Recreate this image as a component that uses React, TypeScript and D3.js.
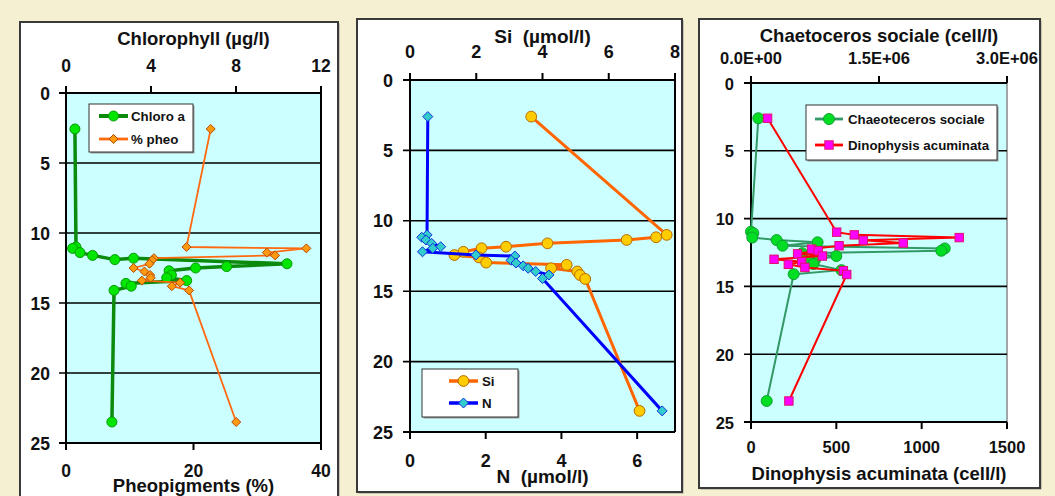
import React from 'react';
import * as d3 from 'd3';

// ---------- DATA ----------
// Panel 1: Chlorophyll a (µg/l, top axis) and % pheopigments (bottom axis)
const chlDepth = [2.57, 11.0, 11.1, 11.4, 11.6, 11.9, 11.8, 12.2, 12.4, 12.5, 12.7, 13.0, 13.2, 13.4, 13.6, 13.8, 14.1, 23.5];
const chlValue = [0.42, 0.47, 0.31, 0.66, 1.25, 2.3, 3.18, 10.4, 7.56, 6.1, 4.85, 4.96, 4.74, 5.68, 2.82, 3.07, 2.26, 2.16];
const pheoDepth = [2.57, 11.0, 11.1, 11.4, 11.6, 11.8, 11.95, 12.2, 12.5, 12.75, 13.0, 13.2, 13.4, 13.55, 13.8, 14.1, 23.5];
const pheoValue = [22.7, 18.9, 37.7, 31.5, 32.8, 13.8, 13.5, 13.1, 10.6, 12.3, 13.2, 13.3, 11.9, 17.9, 16.6, 19.3, 26.7];

// Panel 2: Si (top axis) and N (bottom axis), µmol/l
const siDepth = [2.6, 11.0, 11.17, 11.36, 11.6, 11.84, 11.95, 12.2, 12.43, 12.6, 12.97, 13.13, 13.37, 13.6, 13.85, 14.13, 23.5];
const siValue = [3.66, 7.75, 7.43, 6.54, 4.15, 2.9, 2.16, 1.61, 1.34, 2.08, 2.3, 4.73, 4.26, 5.05, 5.13, 5.29, 6.93];
const nDepth = [2.6, 11.0, 11.17, 11.36, 11.6, 11.84, 11.95, 12.2, 12.43, 12.5, 12.8, 13.0, 13.2, 13.37, 13.6, 13.85, 14.1, 23.5];
const nValue = [0.47, 0.45, 0.31, 0.42, 0.57, 0.81, 0.6, 0.33, 1.74, 2.77, 2.67, 2.8, 2.99, 3.12, 3.32, 3.67, 3.5, 6.66];

// Panel 3: Chaetoceros sociale (top axis) and Dinophysis acuminata (bottom axis), cell/l
const chaetoDepth = [2.6, 10.97, 11.08, 11.4, 11.58, 11.75, 12.0, 12.2, 12.37, 12.55, 12.76, 13.05, 13.18, 13.35, 13.8, 14.1, 23.45];
const chaetoValue = [8.6e4, 0, 2.7e4, 1.5e4, 3.0e5, 7.8e5, 3.7e5, 2.27e6, 2.23e6, 6.0e5, 1.0e6, 7.5e5, 6.9e5, 7.3e5, 1.06e6, 5.0e5, 1.84e5];
const dinoDepth = [2.6, 11.0, 11.2, 11.4, 11.6, 11.8, 12.0, 12.25, 12.37, 12.6, 12.76, 13.0, 13.18, 13.37, 13.6, 13.84, 14.12, 23.45];
const dinoValue = [97, 502, 605, 1220, 658, 892, 516, 355, 394, 273, 418, 135, 297, 219, 316, 541, 561, 222];

// Axis ticks
const depthTicks = [0, 5, 10, 15, 20, 25];
const chlTicks = [0, 4, 8, 12];
const pheoTicks = [0, 20, 40];
const siTicks = [0, 2, 4, 6, 8];
const nTicks = [0, 2, 4, 6];
const chaetoTicks = [0, 1.5e6, 3.0e6];
const chaetoTickLabels = ['0.0E+00', '1.5E+06', '3.0E+06'];
const dinoTicks = [0, 500, 1000, 1500];

// ---------- STYLE / LAYOUT ----------
const FONT = '"Liberation Sans", Arial, Helvetica, sans-serif';
const BG = '#F5F0D2';
const PLOT_BG = '#CCFFFF';

type Series = {
  name: string;
  depth: number[];
  value: number[];
  axis: 'top' | 'bottom';
  line: string;
  lw: number;
  marker: 'circle' | 'diamond' | 'square';
  fill: string;
  stroke: string;
  size: number;
};

type PanelCfg = {
  box: [number, number, number, number];
  px0: number; px1: number; py0: number; py1: number;
  topDomain: [number, number]; topTicks: number[]; topLabels?: string[];
  bottomDomain: [number, number]; bottomTicks: number[];
  topTitle: string; bottomTitle: string;
  topTitleY: number; topLabelY: number; bottomLabelY: number; bottomTitleY: number;
  leftLabelX: number;
  tickFont: number; titleFont: number;
  rightColor: string;
  series: Series[];
  legend: { x: number; y: number; w: number; h: number; lx0: number; lx1: number; ys: number[]; tx: number };
};

function Marker({ s, x, y }: { s: Series; x: number; y: number }) {
  const r = s.size;
  if (s.marker === 'circle') {
    return <circle cx={x} cy={y} r={r} fill={s.fill} stroke={s.stroke} strokeWidth={1} />;
  }
  if (s.marker === 'diamond') {
    return (
      <path d={`M${x},${y - r}L${x + r},${y}L${x},${y + r}L${x - r},${y}Z`} fill={s.fill} stroke={s.stroke} strokeWidth={1} />
    );
  }
  return <rect x={x - r} y={y - r} width={2 * r} height={2 * r} fill={s.fill} stroke={s.stroke} strokeWidth={1} />;
}

function Panel({ cfg }: { cfg: PanelCfg }) {
  const y = d3.scaleLinear().domain([0, 25]).range([cfg.py0, cfg.py1]);
  const xt = d3.scaleLinear().domain(cfg.topDomain).range([cfg.px0, cfg.px1]);
  const xb = d3.scaleLinear().domain(cfg.bottomDomain).range([cfg.px0, cfg.px1]);
  const [bx, by, bw, bh] = cfg.box;
  const txt = { fontFamily: FONT, fontWeight: 700 as const, fill: '#111' };
  const lg = cfg.legend;
  return (
    <g>
      <rect x={bx + 1.5} y={by + 1.5} width={bw} height={bh} fill="#9a9a90" />
      <rect x={bx} y={by} width={bw} height={bh} fill="#fff" stroke="#3a3a3a" strokeWidth={2} />
      <rect x={cfg.px0} y={cfg.py0} width={cfg.px1 - cfg.px0} height={cfg.py1 - cfg.py0} fill={PLOT_BG} />
      {/* right border */}
      <line x1={cfg.px1} x2={cfg.px1} y1={cfg.py0} y2={cfg.py1} stroke={cfg.rightColor} strokeWidth={cfg.rightColor === '#000' ? 2 : 1.5} />
      {/* horizontal grid + ticks */}
      {depthTicks.map((d) => (
        <g key={'g' + d}>
          <line x1={cfg.px0 - 7} x2={cfg.px1} y1={y(d)} y2={y(d)} stroke="#000" strokeWidth={d === 0 || d === 25 ? 2 : 1.6} />
          <text x={cfg.leftLabelX} y={y(d) + 6.5} textAnchor="end" fontSize={cfg.tickFont} {...txt}>{d}</text>
        </g>
      ))}
      {/* left axis */}
      <line x1={cfg.px0} x2={cfg.px0} y1={cfg.py0} y2={cfg.py1} stroke="#000" strokeWidth={2} />
      {/* top axis */}
      {cfg.topTicks.map((t, i) => (
        <g key={'t' + i}>
          <line x1={xt(t)} x2={xt(t)} y1={cfg.py0 - 7} y2={cfg.py0} stroke="#000" strokeWidth={2} />
          <text x={xt(t)} y={cfg.topLabelY} textAnchor="middle" fontSize={cfg.tickFont} {...txt}>
            {cfg.topLabels ? cfg.topLabels[i] : t}
          </text>
        </g>
      ))}
      {/* bottom axis */}
      {cfg.bottomTicks.map((t, i) => (
        <g key={'b' + i}>
          <line x1={xb(t)} x2={xb(t)} y1={cfg.py1} y2={cfg.py1 + 7} stroke="#000" strokeWidth={2} />
          <text x={xb(t)} y={cfg.bottomLabelY} textAnchor="middle" fontSize={cfg.tickFont} {...txt}>{t}</text>
        </g>
      ))}
      <text x={(cfg.px0 + cfg.px1) / 2} y={cfg.topTitleY} textAnchor="middle" fontSize={cfg.titleFont} style={{ whiteSpace: 'pre' }} {...txt}>
        {cfg.topTitle}
      </text>
      <text x={(cfg.px0 + cfg.px1) / 2} y={cfg.bottomTitleY} textAnchor="middle" fontSize={cfg.titleFont} style={{ whiteSpace: 'pre' }} {...txt}>
        {cfg.bottomTitle}
      </text>
      {/* series */}
      {cfg.series.map((s, si) => {
        const xs = s.axis === 'top' ? xt : xb;
        const pts: [number, number][] = s.value.map((v, i) => [xs(v), y(s.depth[i])]);
        const path = d3.line()(pts) || '';
        return (
          <g key={'s' + si}>
            <path d={path} fill="none" stroke={s.line} strokeWidth={s.lw} strokeLinejoin="round" />
            {pts.map((p, i) => (
              <Marker key={i} s={s} x={p[0]} y={p[1]} />
            ))}
          </g>
        );
      })}
      {/* legend */}
      <rect x={lg.x + 1.5} y={lg.y + 1.5} width={lg.w} height={lg.h} fill="#999" />
      <rect x={lg.x} y={lg.y} width={lg.w} height={lg.h} fill="#fff" stroke="#333" strokeWidth={1} />
      {cfg.series.map((s, i) => (
        <g key={'l' + i}>
          <line x1={lg.lx0} x2={lg.lx1} y1={lg.ys[i]} y2={lg.ys[i]} stroke={s.line} strokeWidth={Math.max(s.lw + 0.5, 2.8)} />
          <Marker s={s} x={(lg.lx0 + lg.lx1) / 2} y={lg.ys[i]} />
          <text x={lg.tx} y={lg.ys[i] + 4.8} fontSize={13.3} {...txt}>{s.name}</text>
        </g>
      ))}
    </g>
  );
}

const panels: PanelCfg[] = [
  {
    box: [20, 22, 318, 490],
    px0: 66, px1: 321, py0: 93, py1: 443,
    topDomain: [0, 12], topTicks: chlTicks,
    bottomDomain: [0, 40], bottomTicks: pheoTicks,
    topTitle: 'Chlorophyll (µg/l)', bottomTitle: 'Pheopigments (%)',
    topTitleY: 45, topLabelY: 72, bottomLabelY: 477, bottomTitleY: 492,
    leftLabelX: 50, tickFont: 17.5, titleFont: 18.5, rightColor: '#000',
    series: [
      { name: 'Chloro a', depth: chlDepth, value: chlValue, axis: 'top', line: '#0B8A0B', lw: 3.5, marker: 'circle', fill: '#00E600', stroke: '#089A08', size: 5 },
      { name: '% pheo', depth: pheoDepth, value: pheoValue, axis: 'bottom', line: '#FF6A10', lw: 1.8, marker: 'diamond', fill: '#FF9A10', stroke: '#B84A00', size: 4.5 },
    ],
    legend: { x: 89, y: 104, w: 104, h: 48, lx0: 99, lx1: 128, ys: [116, 139], tx: 131 },
  },
  {
    box: [357, 19, 325, 473],
    px0: 410, px1: 675, py0: 80, py1: 432,
    topDomain: [0, 8], topTicks: siTicks,
    bottomDomain: [0, 7], bottomTicks: nTicks,
    topTitle: 'Si  (µmol/l)', bottomTitle: 'N  (µmol/l)',
    topTitleY: 43, topLabelY: 58, bottomLabelY: 467, bottomTitleY: 483,
    leftLabelX: 393, tickFont: 18, titleFont: 19, rightColor: '#000',
    series: [
      { name: 'Si', depth: siDepth, value: siValue, axis: 'top', line: '#FF6600', lw: 3, marker: 'circle', fill: '#FFCC00', stroke: '#B86A00', size: 5.4 },
      { name: 'N', depth: nDepth, value: nValue, axis: 'bottom', line: '#0000FF', lw: 3, marker: 'diamond', fill: '#33CCCC', stroke: '#1030E0', size: 5 },
    ],
    legend: { x: 422, y: 369, w: 96, h: 48, lx0: 449, lx1: 478, ys: [381, 403], tx: 482 },
  },
  {
    box: [699, 19, 341, 469],
    px0: 751, px1: 1007, py0: 83, py1: 422,
    topDomain: [0, 3e6], topTicks: chaetoTicks, topLabels: chaetoTickLabels,
    bottomDomain: [0, 1500], bottomTicks: dinoTicks,
    topTitle: 'Chaetoceros sociale (cell/l)', bottomTitle: 'Dinophysis acuminata (cell/l)',
    topTitleY: 42, topLabelY: 64, bottomLabelY: 453, bottomTitleY: 480,
    leftLabelX: 734, tickFont: 16.5, titleFont: 18.5, rightColor: '#888',
    series: [
      { name: 'Chaeoteceros sociale', depth: chaetoDepth, value: chaetoValue, axis: 'top', line: '#339966', lw: 2, marker: 'circle', fill: '#00DD22', stroke: '#10A030', size: 5.5 },
      { name: 'Dinophysis acuminata', depth: dinoDepth, value: dinoValue, axis: 'bottom', line: '#FF0000', lw: 2, marker: 'square', fill: '#FF00FF', stroke: '#E0106A', size: 4.2 },
    ],
    legend: { x: 806, y: 105, w: 191, h: 55, lx0: 815, lx1: 843, ys: [119, 145], tx: 848 },
  },
];

export default function App() {
  return (
    <svg width={1055} height={496} style={{ position: 'absolute', left: 0, top: 0, display: 'block' }}>
      <rect x={0} y={0} width={1055} height={496} fill={BG} />
      {panels.map((p, i) => (
        <Panel key={i} cfg={p} />
      ))}
    </svg>
  );
}
